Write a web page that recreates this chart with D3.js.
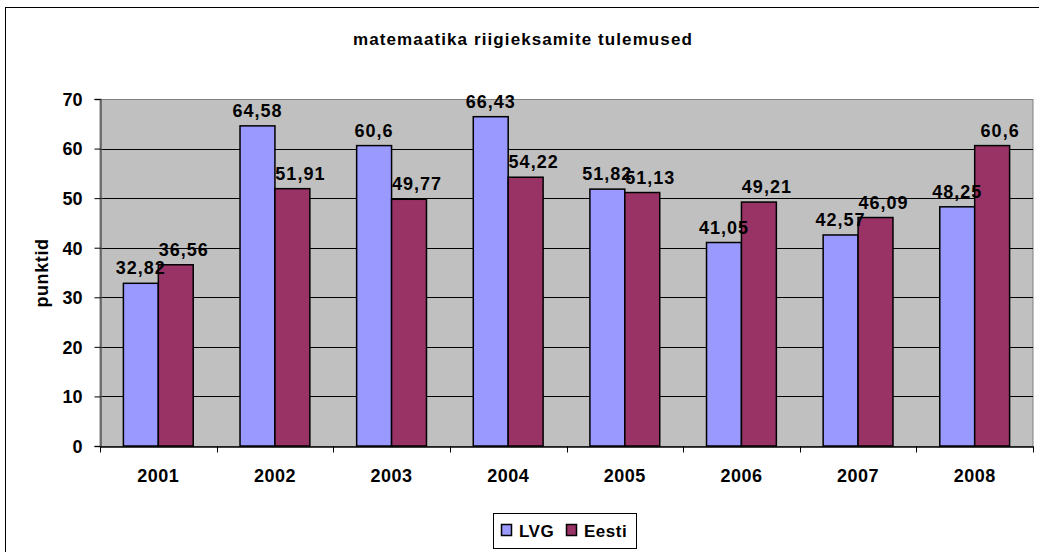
<!DOCTYPE html>
<html>
<head>
<meta charset="utf-8">
<script src="https://cdn.jsdelivr.net/npm/d3@7"></script>
<style>
	body { margin: 0; background: #fff; }
	text { font-family: "Liberation Sans", Arial, sans-serif; font-weight: bold; fill: #000; }
</style>
</head>
<body>
<svg id="chart" width="1039" height="552"></svg>
<script>

// Data

var years = ["2001", "2002", "2003", "2004", "2005", "2006", "2007", "2008"];
var lvg = [32.82, 64.58, 60.6, 66.43, 51.82, 41.05, 42.57, 48.25];
var eesti = [36.56, 51.91, 49.77, 54.22, 51.13, 49.21, 46.09, 60.6];
var seriesNames = ["LVG", "Eesti"];
var seriesColors = ["#9999ff", "#993366"];
var yTicks = [0, 10, 20, 30, 40, 50, 60, 70];
var title = "matemaatika riigieksamite tulemused";
var yTitle = "punktid";

// Layout

var svg = d3.select("#chart");
var plotLeft = 100, plotRight = 1033, plotTop = 99, plotBottom = 446;

var x = d3.scaleBand().domain(years).range([plotLeft, plotRight]).paddingInner(0).paddingOuter(0);
var y = d3.scaleLinear().domain([0, 70]).range([plotBottom, plotTop]);
var xs = d3.scaleBand().domain(seriesNames).range([0, x.bandwidth()]).paddingInner(0).paddingOuter(0.67);

// outer frame
svg.append("rect")
	.attr("x", 5.5).attr("y", 7.5)
	.attr("width", 1040).attr("height", 560)
	.attr("fill", "none").attr("stroke", "#000").attr("stroke-width", 1);

// plot background
svg.append("rect")
	.attr("x", plotLeft).attr("y", plotTop + 0.5)
	.attr("width", plotRight - plotLeft).attr("height", plotBottom - plotTop)
	.attr("fill", "#c0c0c0")
	.attr("stroke", "#808080");

// gridlines
svg.append("g")
	.selectAll("line")
	.data(yTicks.filter(function(d) { return d > 0 && d < 70; }))
	.enter().append("line")
	.attr("x1", plotLeft).attr("x2", plotRight)
	.attr("y1", function(d) { return Math.round(y(d)) + 0.5; })
	.attr("y2", function(d) { return Math.round(y(d)) + 0.5; })
	.attr("stroke", "#000").attr("stroke-width", 1);

// bars
var series = [lvg, eesti];
var groups = svg.append("g");
series.forEach(function(values, s) {
	groups.selectAll(".bar" + s)
		.data(values)
		.enter().append("rect")
		.attr("class", "bar" + s)
		.attr("x", function(d, i) { return x(years[i]) + xs(seriesNames[s]); })
		.attr("y", function(d) { return y(d); })
		.attr("width", xs.bandwidth())
		.attr("height", function(d) { return plotBottom - y(d); })
		.attr("fill", seriesColors[s])
		.attr("stroke", "#000").attr("stroke-width", 1.5);
});

// value labels
series.forEach(function(values, s) {
	svg.append("g").selectAll("text")
		.data(values)
		.enter().append("text")
		.attr("x", function(d, i) { return x(years[i]) + xs(seriesNames[s]) + xs.bandwidth() / 2 + (s === 1 ? 8 : 0); })
		.attr("y", function(d) { return y(d) - 9; })
		.attr("text-anchor", "middle")
		.style("font-size", "18px")
		.style("letter-spacing", "1px")
		.text(function(d) { return String(d).replace(".", ","); });
});

// y axis
var yAxis = d3.axisLeft(y).tickValues(yTicks).tickSize(6).tickPadding(12);
var gy = svg.append("g").attr("transform", "translate(" + (plotLeft + 0.5) + ",0)").call(yAxis);
gy.select(".domain").attr("stroke", "#555").attr("stroke-width", 1.5);
gy.selectAll(".tick line").attr("stroke", "#000");
gy.selectAll(".tick text").style("font-size", "18px").attr("dy", "0.35em").style("font-family", null);

// x axis
var xAxis = d3.axisBottom(x).tickSize(0).tickPadding(23);
var gx = svg.append("g").attr("transform", "translate(0," + (plotBottom + 0.5) + ")").call(xAxis);
gx.select(".domain").attr("stroke", "#000").attr("stroke-width", 1.5);
gx.selectAll(".tick text").style("font-size", "18px").style("letter-spacing", "0.5px").style("font-family", null);
gx.selectAll(".sep")
	.data(years.concat(["end"]))
	.enter().append("line")
	.attr("x1", function(d, i) { return Math.round(plotLeft + i * x.bandwidth()) + 0.5; })
	.attr("x2", function(d, i) { return Math.round(plotLeft + i * x.bandwidth()) + 0.5; })
	.attr("y1", 0).attr("y2", 6)
	.attr("stroke", "#000");

// title
svg.append("text")
	.attr("x", 523).attr("y", 45)
	.attr("text-anchor", "middle")
	.style("font-size", "17px")
	.style("letter-spacing", "1.1px")
	.text(title);

// y title
svg.append("text")
	.attr("transform", "translate(48,273) rotate(-90)")
	.attr("text-anchor", "middle")
	.style("font-size", "18px")
	.style("letter-spacing", "0.6px")
	.text(yTitle);

// legend
var legend = svg.append("g");
legend.append("rect")
	.attr("x", 493.5).attr("y", 513.5)
	.attr("width", 143).attr("height", 35)
	.attr("fill", "#fff").attr("stroke", "#000");

var legendX = [501, 566];
seriesNames.forEach(function(name, s) {
	legend.append("rect")
		.attr("x", legendX[s] + 0.5).attr("y", 524.5)
		.attr("width", 10).attr("height", 11)
		.attr("fill", seriesColors[s]).attr("stroke", "#000").attr("stroke-width", 1.5);
	legend.append("text")
		.attr("x", legendX[s] + 18).attr("y", 537)
		.style("font-size", "17px")
		.style("letter-spacing", "0.5px")
		.text(name);
});

</script>
</body>
</html>
